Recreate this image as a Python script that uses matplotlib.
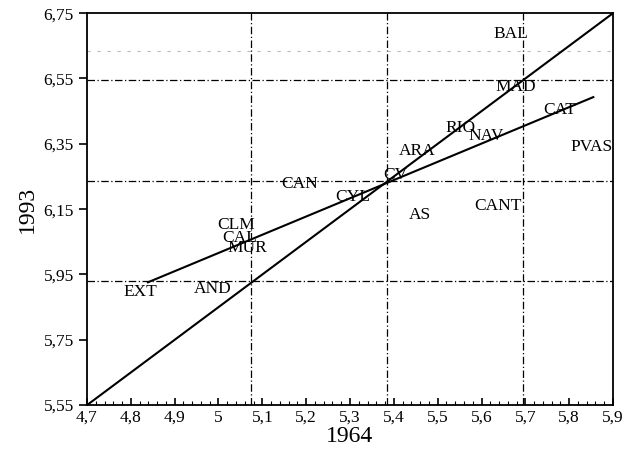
import matplotlib.pyplot as plt
import numpy as np
from matplotlib.ticker import FixedLocator, MultipleLocator

plt.rcParams['font.family'] = ['Liberation Serif', 'DejaVu Serif']

# region labels with their (1964, 1993) values
regions = ['BAL', 'MAD', 'CAT', 'PVAS', 'RIO', 'NAV', 'ARA', 'CV', 'CAN', 'CYL',
           'AS', 'CANT', 'CLM', 'CAL', 'MUR', 'EXT', 'AND']
x1964 = [5.667, 5.679, 5.779, 5.852, 5.551, 5.610, 5.453, 5.403, 5.186, 5.305,
         5.460, 5.638, 5.040, 5.049, 5.065, 4.821, 4.987]
y1993 = [6.686, 6.523, 6.453, 6.340, 6.398, 6.374, 6.328, 6.254, 6.227, 6.187,
         6.132, 6.159, 6.101, 6.063, 6.030, 5.896, 5.905]

# 45 degree line and fitted line
diag_x = [4.7, 5.9]
diag_y = [5.55, 6.75]
fit_x = [4.839, 5.855]
fit_y = [5.926, 6.493]

# reference lines (dash-dot)
vlines = [5.075, 5.385, 5.695]
hlines = [5.929, 6.236, 6.545]

xticks = [4.7, 4.8, 4.9, 5.0, 5.1, 5.2, 5.3, 5.4, 5.5, 5.6, 5.7, 5.8, 5.9]
xticklabels = ['4,7', '4,8', '4,9', '5', '5,1', '5,2', '5,3', '5,4', '5,5', '5,6', '5,7', '5,8', '5,9']
yticks = [5.55, 5.75, 5.95, 6.15, 6.35, 6.55, 6.75]
yticklabels = ['5,55', '5,75', '5,95', '6,15', '6,35', '6,55', '6,75']

fig = plt.figure(figsize=(6.23, 4.70), dpi=100)
ax = fig.add_axes([0.1396, 0.138, 0.8444, 0.834])

for v in vlines:
    ax.axvline(v, color='black', lw=0.9, ls=(0, (6, 2, 1, 2)))
for h in hlines:
    ax.axhline(h, color='black', lw=0.9, ls=(0, (6, 2, 1, 2)))
ax.axhline(6.634, color='#bbbbbb', lw=0.8, ls=(0, (3, 6)))

ax.plot(diag_x, diag_y, color='black', lw=1.5)
ax.plot(fit_x, fit_y, color='black', lw=1.5)

for name, xv, yv in zip(regions, x1964, y1993):
    ax.text(xv, yv, name, ha='center', va='center', fontsize=12.5)

ax.set_xlim(4.7, 5.9)
ax.set_ylim(5.55, 6.75)
ax.xaxis.set_major_locator(FixedLocator(xticks))
ax.set_xticklabels(xticklabels, fontsize=12.5)
ax.xaxis.set_minor_locator(MultipleLocator(0.02))
ax.yaxis.set_major_locator(FixedLocator(yticks))
ax.set_yticklabels(yticklabels, fontsize=12.5)

ax.tick_params(axis='x', which='major', direction='in', length=5, width=1.2)
ax.tick_params(axis='x', which='minor', direction='in', length=3, width=0.8)
ax.tick_params(axis='y', which='major', direction='out', length=6, width=1.2)
for s in ax.spines.values():
    s.set_linewidth(1.3)

ax.set_xlabel('1964', fontsize=17, labelpad=0)
ax.set_ylabel('1993', fontsize=17, labelpad=4)

fig.savefig('out.png', dpi=100)
